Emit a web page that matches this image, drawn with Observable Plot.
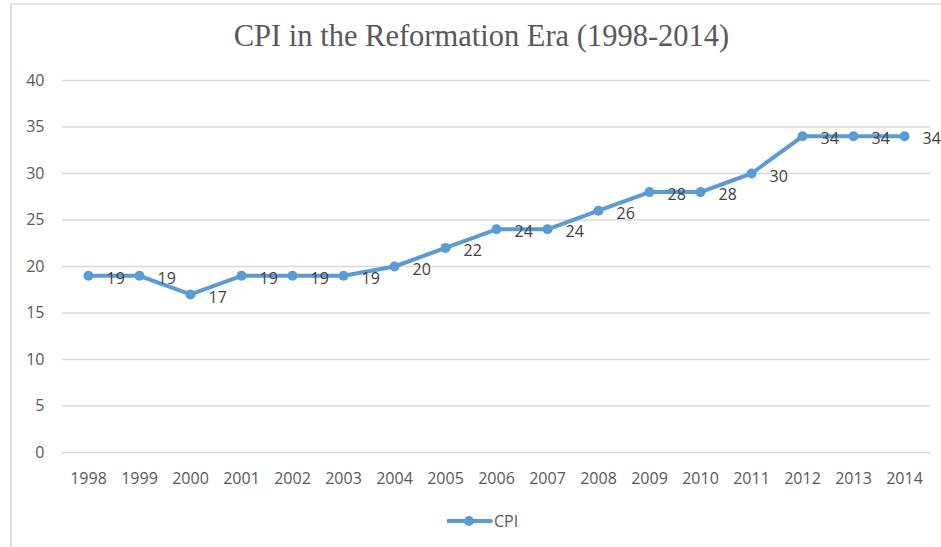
<!DOCTYPE html>
<html>
<head>
<meta charset="utf-8">
<script src="https://cdn.jsdelivr.net/npm/d3@7"></script>
<script src="https://cdn.jsdelivr.net/npm/@observablehq/plot@0.6"></script>
<style>
  html, body { margin: 0; padding: 0; background: #fff; }
  #wrap { position: relative; width: 941px; height: 547px; overflow: hidden; font-family: "Open Sans", sans-serif; }
  #border { position: absolute; left: 10px; top: 3px; right: -2px; bottom: -2px; border-left: 2px solid #dcdcdc; border-top: 2px solid #e6e6e6; }
  #title { position: absolute; left: 0; top: 0; width: 941px; height: 62px; text-align: center; font-family: "Liberation Serif", "Times New Roman", serif; font-size: 30.5px; color: #595959; line-height: 73px; padding-left: 22px; box-sizing: border-box; white-space: nowrap; }
  #chart { position: absolute; left: 0; top: 62px; }
  #legend { position: absolute; left: 0; top: 500px; width: 941px; height: 47px; }
  #legend .item { position: absolute; left: 447px; top: 10px; display: flex; align-items: center; font-size: 16px; color: #595959; }
</style>
</head>
<body>
<div id="wrap">
  <div id="border"></div>
  <div id="title">CPI in the Reformation Era (1998-2014)</div>
  <div id="chart"></div>
  <div id="legend"><div class="item"><svg width="46" height="22"><line x1="1" y1="11" x2="44" y2="11" stroke="#5B9BD5" stroke-width="4" stroke-linecap="round"/><circle cx="22" cy="11" r="5" fill="#5B9BD5"/></svg><span style="margin-left:1px">CPI</span></div></div>
</div>
<script>
const years = ["1998","1999","2000","2001","2002","2003","2004","2005","2006","2007","2008","2009","2010","2011","2012","2013","2014"];
const cpi = [19,19,17,19,19,19,20,22,24,24,26,28,28,30,34,34,34];
const yTicks = [0,5,10,15,20,25,30,35,40];
const seriesName = "CPI";

const data = years.map((y, i) => ({year: y, value: cpi[i], series: seriesName}));
const color = "#5B9BD5";

const chart = Plot.plot({
  width: 941,
  height: 438,
  marginTop: 18,
  marginBottom: 48,
  marginLeft: 62,
  marginRight: 11,
  style: {fontFamily: "'Open Sans', sans-serif", fontSize: "16px", color: "#595959", background: "transparent", overflow: "visible"},
  x: {type: "point", domain: years, padding: 0.5, label: null},
  y: {domain: [0, 40], ticks: yTicks, label: null},
  marks: [
    Plot.ruleY(yTicks, {stroke: "#d9d9d9", strokeWidth: 1.5}),
    Plot.axisY({ticks: yTicks, tickSize: 0, tickPadding: 18, label: null, fontSize: 16, fill: "#595959"}),
    Plot.axisX({tickSize: 0, tickPadding: 20, label: null, fontSize: 16, fill: "#595959"}),
    Plot.line(data, {x: "year", y: "value", stroke: color, strokeWidth: 4, strokeLinejoin: "round", strokeLinecap: "round"}),
    Plot.dot(data, {x: "year", y: "value", r: 5, fill: color}),
    Plot.text(data, {x: "year", y: "value", text: d => String(d.value), dx: 18, dy: 3, textAnchor: "start", fill: "#404040", fontSize: 16})
  ]
});
document.getElementById("chart").appendChild(chart);
</script>
</body>
</html>
